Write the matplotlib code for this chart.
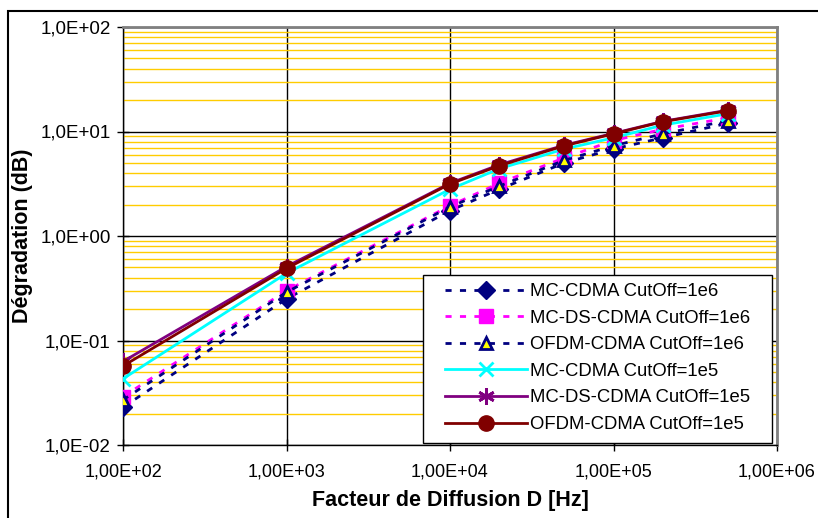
import matplotlib
matplotlib.use("Agg")
import matplotlib.pyplot as plt
from matplotlib.ticker import FixedLocator, FuncFormatter, NullFormatter, LogLocator
from matplotlib.patches import Rectangle

plt.rcParams['font.family'] = ['Liberation Sans', 'DejaVu Sans']

D = [1e2, 1e3, 1e4, 2e4, 5e4, 1e5, 2e5, 5e5]
mc_cdma_1e6 = [0.023, 0.25, 1.75, 2.8, 5.0, 6.8, 8.7, 12.0]
mc_ds_cdma_1e6 = [0.029, 0.30, 1.95, 3.2, 5.6, 8.2, 10.5, 13.5]
ofdm_cdma_1e6 = [0.027, 0.29, 1.9, 3.0, 5.3, 7.3, 9.5, 12.7]
mc_cdma_1e5 = [0.043, 0.44, 2.8, 4.4, 6.8, 8.7, 11.5, 14.8]
mc_ds_cdma_1e5 = [0.063, 0.51, 3.2, 4.8, 7.4, 9.6, 12.5, 16.0]
ofdm_cdma_1e5 = [0.057, 0.49, 3.15, 4.7, 7.3, 9.5, 12.4, 15.8]

labels = ["MC-CDMA CutOff=1e6", "MC-DS-CDMA CutOff=1e6", "OFDM-CDMA CutOff=1e6",
          "MC-CDMA CutOff=1e5", "MC-DS-CDMA CutOff=1e5", "OFDM-CDMA CutOff=1e5"]
xticks = [1e2, 1e3, 1e4, 1e5, 1e6]
xticklabels = ["1,00E+02", "1,00E+03", "1,00E+04", "1,00E+05", "1,00E+06"]
yticks = [1e-2, 1e-1, 1e0, 1e1, 1e2]
yticklabels = ["1,0E-02", "1,0E-01", "1,0E+00", "1,0E+01", "1,0E+02"]

W, H = 818, 518
fig = plt.figure(figsize=(W / 100, H / 100), dpi=100)
AX_L, AX_R, AX_T, AX_B = 123, 777, 27, 445
ax = fig.add_axes([AX_L / W, 1 - AX_B / H, (AX_R - AX_L) / W, (AX_B - AX_T) / H])
aw, ah = AX_R - AX_L, AX_B - AX_T

dash = (0, (2.2, 3.0))
ax.plot(D, mc_cdma_1e6, color='#000080', lw=2, ls=dash, marker='D', ms=9,
        mfc='#000080', mec='#000080', label=labels[0], zorder=3)
ax.plot(D, mc_ds_cdma_1e6, color='#FF00FF', lw=2, ls=dash, marker='s', ms=10,
        mfc='#FF00FF', mec='#FF00FF', label=labels[1], zorder=3)
ax.plot(D, ofdm_cdma_1e6, color='#000080', lw=2, ls=dash, marker='^', ms=9,
        mfc='#FFFF00', mec='#000080', mew=2, label=labels[2], zorder=3)
ax.plot(D, mc_cdma_1e5, color='#00FFFF', lw=2, marker='x', ms=10, mew=2,
        mec='#00FFFF', label=labels[3], zorder=3)
ax.plot(D, mc_ds_cdma_1e5, color='#800080', lw=2, marker=(6, 2, 0), ms=12, mew=2,
        mec='#800080', label=labels[4], zorder=3)
ax.plot(D, ofdm_cdma_1e5, color='#800000', lw=2, marker='o', ms=11,
        mfc='#800000', mec='#800000', label=labels[5], zorder=3)

ax.set_xscale('log')
ax.set_yscale('log')
ax.set_xlim(1e2, 1e6)
ax.set_ylim(1e-2, 1e2)

ax.xaxis.set_major_locator(FixedLocator(xticks))
ax.xaxis.set_major_formatter(FuncFormatter(lambda v, p: xticklabels[xticks.index(v)] if v in xticks else ""))
ax.xaxis.set_minor_locator(FixedLocator([]))
ax.yaxis.set_major_locator(FixedLocator(yticks))
ax.yaxis.set_major_formatter(FuncFormatter(lambda v, p: yticklabels[yticks.index(v)] if v in yticks else ""))
ax.yaxis.set_minor_locator(LogLocator(base=10, subs=range(2, 10)))
ax.yaxis.set_minor_formatter(NullFormatter())

ax.tick_params(axis='both', which='major', direction='inout', length=8, width=1, color='black')
ax.tick_params(axis='y', which='minor', length=0)
ax.tick_params(axis='y', labelsize=13.5, pad=5)
ax.tick_params(axis='x', labelsize=13, pad=9)

ax.grid(True, which='minor', axis='y', color='#FFCC00', lw=1, zorder=0)
ax.grid(True, which='major', axis='y', color='black', lw=1, zorder=1)
ax.grid(True, which='major', axis='x', color='black', lw=1, zorder=1)
ax.set_axisbelow(True)

for s in ['top', 'right']:
    ax.spines[s].set_color('#808080')
    ax.spines[s].set_linewidth(2)
for s in ['left', 'bottom']:
    ax.spines[s].set_color('black')
    ax.spines[s].set_linewidth(1)

ax.set_ylabel("Dégradation (dB)", fontsize=15.5, fontweight='bold', labelpad=5)
ax.set_xlabel("Facteur de Diffusion D [Hz]", fontsize=15.5, fontweight='bold', labelpad=7)

# legend frame (drawn manually for exact size)
ax.add_patch(Rectangle(((423 - AX_L) / aw, (AX_B - 443) / ah), (772 - 423) / aw, (443 - 275) / ah,
                       transform=ax.transAxes, facecolor='white', edgecolor='black', lw=1,
                       zorder=4.8, clip_on=False))
leg = ax.legend(loc='upper left', bbox_to_anchor=((445 - AX_L) / aw, (AX_B - 283) / ah),
                fontsize=13.3, frameon=False, handlelength=4.44, handletextpad=0.16,
                labelspacing=0.52, borderpad=0, borderaxespad=0)
leg.set_zorder(5)

fig.patches.append(Rectangle((8 / W, -0.01), 1.05, 1 - 11 / H + 0.01, transform=fig.transFigure,
                             fill=False, edgecolor='black', lw=1.5))

fig.savefig("out.png", dpi=100)
